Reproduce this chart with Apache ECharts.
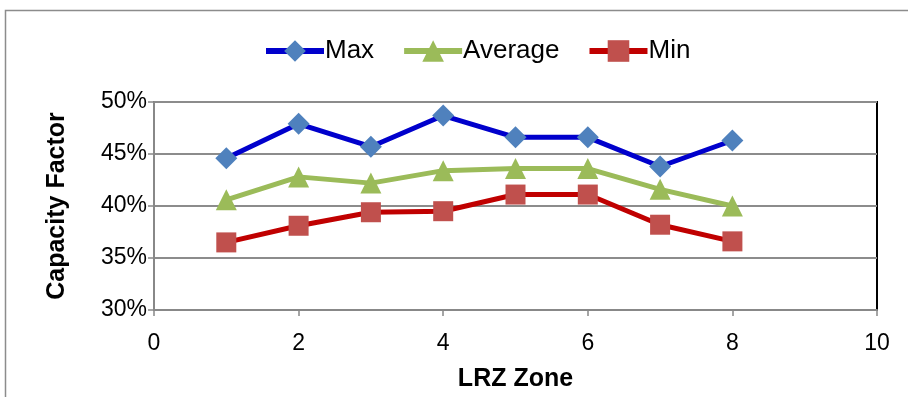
<!DOCTYPE html>
<html><head><meta charset="utf-8">
<script src="https://cdn.jsdelivr.net/npm/echarts@6/dist/echarts.min.js"></script>
<style>html,body{margin:0;padding:0;background:#fff}#c{width:908px;height:397px}</style>
</head><body><div id="c"></div>
<script>
const zones = [1, 2, 3, 4, 5, 6, 7, 8];
const maxVals = [44.6, 47.9, 45.7, 48.7, 46.6, 46.6, 43.8, 46.3];
const avgVals = [40.6, 42.8, 42.2, 43.4, 43.6, 43.6, 41.6, 40.0];
const minVals = [36.5, 38.1, 39.4, 39.5, 41.1, 41.1, 38.2, 36.6];
const seriesNames = ['Max', 'Average', 'Min'];
const FONT = '"Liberation Sans", Arial, sans-serif';

const pair = v => zones.map((z, i) => [z, v[i]]);
const chart = echarts.init(document.getElementById('c'));
chart.setOption({
  animation: false,
  graphic: [{type: 'rect', shape: {x: 5.5, y: 10.5, width: 920, height: 400},
    style: {fill: 'none', stroke: '#8c8c8c', lineWidth: 1.5}, z: -10}],
  legend: {
    top: 33, left: 258, itemWidth: 58, itemHeight: 27, itemGap: 27,
    lineStyle: {width: 6},
    textStyle: {fontFamily: FONT, fontSize: 26, color: '#000', padding: [0, 0, 0, -4]},
    data: seriesNames
  },
  grid: {left: 154, right: 31, top: 102, bottom: 86, show: true,
    borderColor: '#000', borderWidth: 2, backgroundColor: 'transparent'},
  xAxis: {
    type: 'value', min: 0, max: 10, interval: 2,
    name: 'LRZ Zone', nameLocation: 'middle', nameGap: 57,
    nameTextStyle: {fontFamily: FONT, fontWeight: 'bold', fontSize: 25, color: '#000'},
    axisLine: {show: true, lineStyle: {color: '#888', width: 2}},
    axisTick: {show: true, length: 6, inside: false, lineStyle: {color: '#888', width: 1.5}},
    axisLabel: {fontFamily: FONT, fontSize: 23, color: '#000', margin: 22},
    splitLine: {show: false}
  },
  yAxis: {
    type: 'value', min: 30, max: 50, interval: 5,
    name: 'Capacity Factor', nameLocation: 'middle', nameGap: 84,
    nameTextStyle: {fontFamily: FONT, fontWeight: 'bold', fontSize: 25, color: '#000'},
    axisLine: {show: true, lineStyle: {color: '#888', width: 2}},
    axisTick: {show: true, length: 6, lineStyle: {color: '#888', width: 1.5}},
    axisLabel: {fontFamily: FONT, fontSize: 23, color: '#000', margin: 7, formatter: '{value}%'},
    splitLine: {show: true, lineStyle: {color: '#8c8c8c', width: 2}}
  },
  series: [
    {name: seriesNames[0], type: 'line', data: pair(maxVals), symbol: 'diamond', symbolSize: 22,
      lineStyle: {color: '#0000CC', width: 5}, itemStyle: {color: '#4F81BD'}, z: 3},
    {name: seriesNames[1], type: 'line', data: pair(avgVals), symbol: 'triangle', symbolSize: 21,
      lineStyle: {color: '#9BBB59', width: 5}, itemStyle: {color: '#9BBB59'}, z: 2},
    {name: seriesNames[2], type: 'line', data: pair(minVals), symbol: 'rect', symbolSize: 20,
      lineStyle: {color: '#C00000', width: 5}, itemStyle: {color: '#C0504D'}, z: 2}
  ]
});
</script></body></html>
